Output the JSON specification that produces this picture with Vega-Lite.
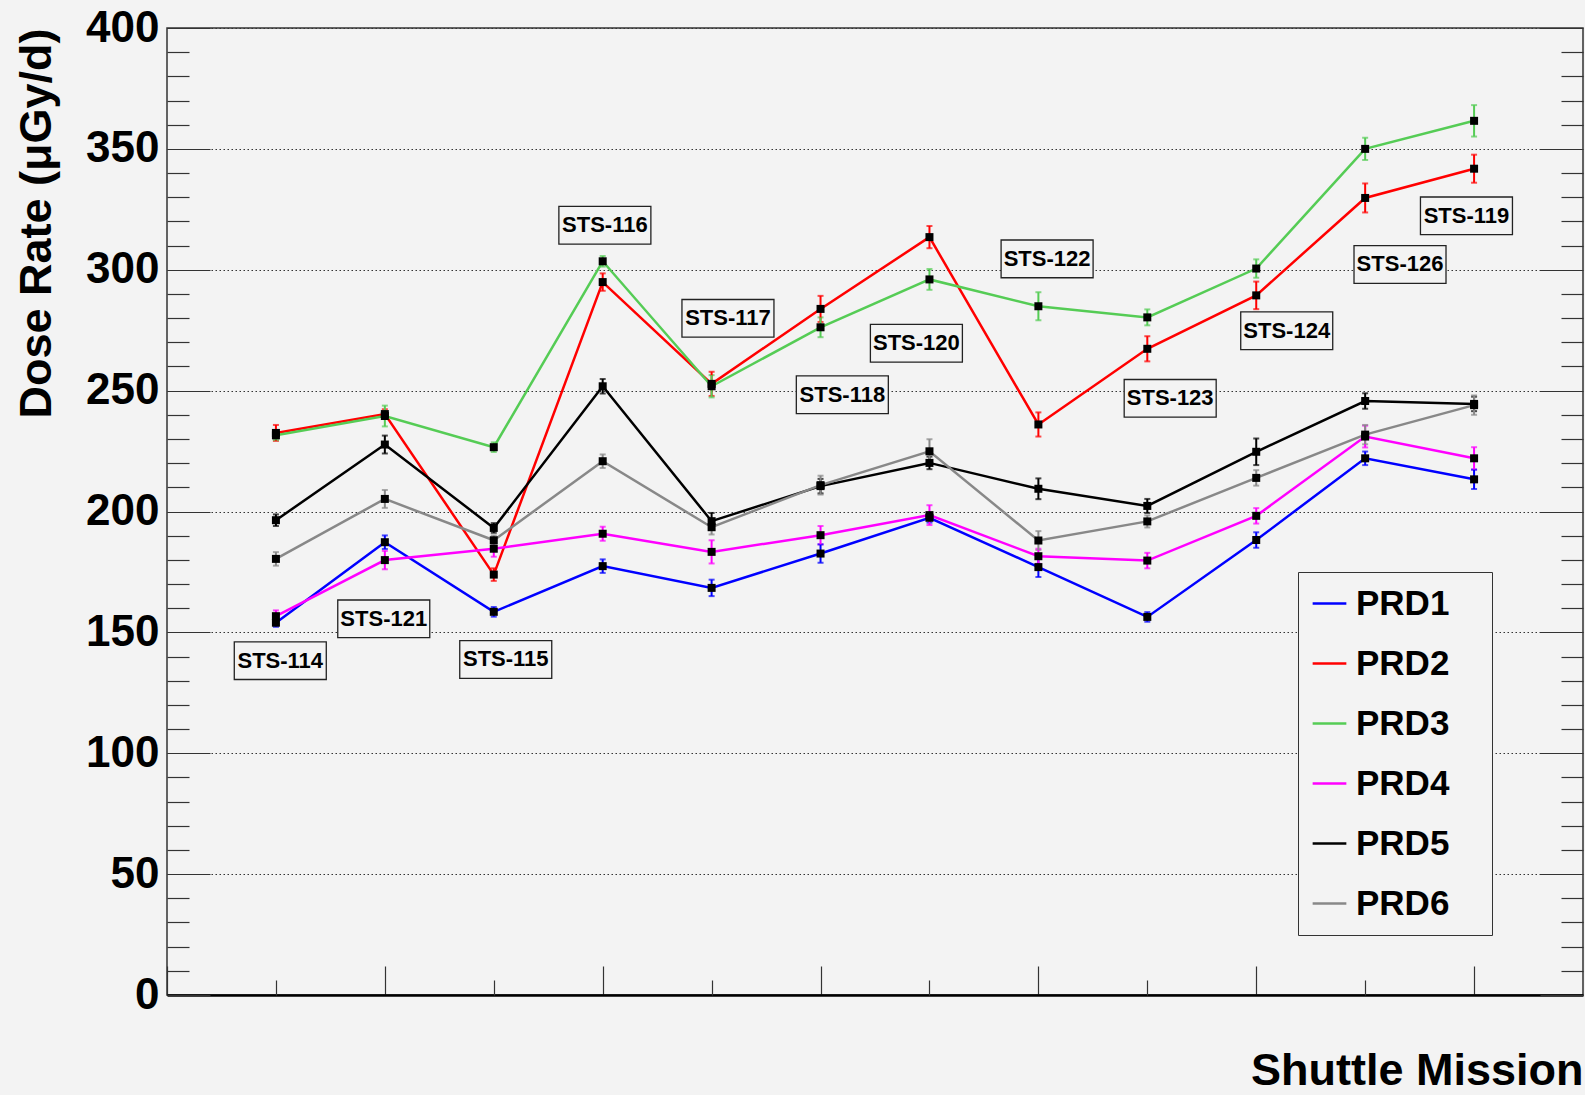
{
  "$schema": "https://vega.github.io/schema/vega-lite/v6.json",
  "width": 1416,
  "height": 967,
  "autosize": {"type": "none"},
  "padding": {"left": 167, "top": 28, "right": 2, "bottom": 100},
  "background": "#f3f3f3",
  "config": {
    "view": {"stroke": "#333333", "strokeWidth": 1.5},
    "axis": {"domain": false, "labelFont": "Liberation Sans", "titleFont": "Liberation Sans", "labelColor": "black", "titleColor": "black", "tickColor": "#333333", "tickWidth": 1.2}
  },
  "datasets": {
    "dose": [
      {"m": 1, "s": "PRD1", "v": 154.0, "e": 1.7}, {"m": 2, "s": "PRD1", "v": 187.3, "e": 2.8}, {"m": 3, "s": "PRD1", "v": 158.5, "e": 2.0}, {"m": 4, "s": "PRD1", "v": 177.4, "e": 2.8}, {"m": 5, "s": "PRD1", "v": 168.4, "e": 3.4}, {"m": 6, "s": "PRD1", "v": 182.6, "e": 3.8}, {"m": 7, "s": "PRD1", "v": 197.4, "e": 2.0}, {"m": 8, "s": "PRD1", "v": 177.0, "e": 4.1}, {"m": 9, "s": "PRD1", "v": 156.4, "e": 2.0}, {"m": 10, "s": "PRD1", "v": 188.2, "e": 3.2}, {"m": 11, "s": "PRD1", "v": 222.0, "e": 2.8}, {"m": 12, "s": "PRD1", "v": 213.3, "e": 4.0},
      {"m": 1, "s": "PRD2", "v": 232.5, "e": 3.3}, {"m": 2, "s": "PRD2", "v": 240.3, "e": 2.0}, {"m": 3, "s": "PRD2", "v": 173.9, "e": 2.6}, {"m": 4, "s": "PRD2", "v": 294.9, "e": 3.6}, {"m": 5, "s": "PRD2", "v": 252.8, "e": 5.0}, {"m": 6, "s": "PRD2", "v": 283.8, "e": 5.4}, {"m": 7, "s": "PRD2", "v": 313.5, "e": 4.6}, {"m": 8, "s": "PRD2", "v": 236.0, "e": 5.0}, {"m": 9, "s": "PRD2", "v": 267.3, "e": 5.2}, {"m": 10, "s": "PRD2", "v": 289.4, "e": 5.7}, {"m": 11, "s": "PRD2", "v": 329.7, "e": 6.0}, {"m": 12, "s": "PRD2", "v": 341.8, "e": 5.8},
      {"m": 1, "s": "PRD3", "v": 231.5, "e": 2.0}, {"m": 2, "s": "PRD3", "v": 239.5, "e": 4.3}, {"m": 3, "s": "PRD3", "v": 226.6, "e": 2.0}, {"m": 4, "s": "PRD3", "v": 303.5, "e": 2.2}, {"m": 5, "s": "PRD3", "v": 251.8, "e": 4.6}, {"m": 6, "s": "PRD3", "v": 276.2, "e": 4.1}, {"m": 7, "s": "PRD3", "v": 296.0, "e": 4.3}, {"m": 8, "s": "PRD3", "v": 284.9, "e": 5.8}, {"m": 9, "s": "PRD3", "v": 280.3, "e": 3.3}, {"m": 10, "s": "PRD3", "v": 300.5, "e": 3.8}, {"m": 11, "s": "PRD3", "v": 350.0, "e": 4.6}, {"m": 12, "s": "PRD3", "v": 361.6, "e": 6.5},
      {"m": 1, "s": "PRD4", "v": 156.7, "e": 2.4}, {"m": 2, "s": "PRD4", "v": 179.9, "e": 3.8}, {"m": 3, "s": "PRD4", "v": 184.6, "e": 3.3}, {"m": 4, "s": "PRD4", "v": 190.8, "e": 2.9}, {"m": 5, "s": "PRD4", "v": 183.3, "e": 4.8}, {"m": 6, "s": "PRD4", "v": 190.2, "e": 3.8}, {"m": 7, "s": "PRD4", "v": 198.5, "e": 4.1}, {"m": 8, "s": "PRD4", "v": 181.5, "e": 3.1}, {"m": 9, "s": "PRD4", "v": 179.7, "e": 3.2}, {"m": 10, "s": "PRD4", "v": 198.2, "e": 3.2}, {"m": 11, "s": "PRD4", "v": 231.0, "e": 4.5}, {"m": 12, "s": "PRD4", "v": 222.0, "e": 4.6},
      {"m": 1, "s": "PRD5", "v": 196.4, "e": 2.4}, {"m": 2, "s": "PRD5", "v": 227.7, "e": 3.7}, {"m": 3, "s": "PRD5", "v": 193.2, "e": 2.0}, {"m": 4, "s": "PRD5", "v": 251.8, "e": 3.0}, {"m": 5, "s": "PRD5", "v": 196.0, "e": 3.4}, {"m": 6, "s": "PRD5", "v": 210.5, "e": 3.0}, {"m": 7, "s": "PRD5", "v": 220.1, "e": 2.6}, {"m": 8, "s": "PRD5", "v": 209.4, "e": 4.3}, {"m": 9, "s": "PRD5", "v": 202.3, "e": 2.9}, {"m": 10, "s": "PRD5", "v": 224.7, "e": 5.5}, {"m": 11, "s": "PRD5", "v": 245.7, "e": 3.2}, {"m": 12, "s": "PRD5", "v": 244.5, "e": 3.0},
      {"m": 1, "s": "PRD6", "v": 180.4, "e": 2.8}, {"m": 2, "s": "PRD6", "v": 205.2, "e": 3.7}, {"m": 3, "s": "PRD6", "v": 188.1, "e": 2.0}, {"m": 4, "s": "PRD6", "v": 220.8, "e": 2.8}, {"m": 5, "s": "PRD6", "v": 193.5, "e": 3.0}, {"m": 6, "s": "PRD6", "v": 210.9, "e": 3.9}, {"m": 7, "s": "PRD6", "v": 224.9, "e": 5.0}, {"m": 8, "s": "PRD6", "v": 188.0, "e": 3.9}, {"m": 9, "s": "PRD6", "v": 195.9, "e": 2.5}, {"m": 10, "s": "PRD6", "v": 213.9, "e": 3.2}, {"m": 11, "s": "PRD6", "v": 231.8, "e": 4.0}, {"m": 12, "s": "PRD6", "v": 244.0, "e": 4.0}
    ],
    "missions": [
      {"mission": "STS-114", "lx": 1.04, "ly": 138.3},
      {"mission": "STS-121", "lx": 1.99, "ly": 155.6},
      {"mission": "STS-115", "lx": 3.11, "ly": 138.8},
      {"mission": "STS-116", "lx": 4.02, "ly": 318.4},
      {"mission": "STS-117", "lx": 5.15, "ly": 279.9},
      {"mission": "STS-118", "lx": 6.20, "ly": 248.3},
      {"mission": "STS-120", "lx": 6.88, "ly": 269.6},
      {"mission": "STS-122", "lx": 8.08, "ly": 304.5},
      {"mission": "STS-123", "lx": 9.21, "ly": 246.8},
      {"mission": "STS-124", "lx": 10.28, "ly": 274.8},
      {"mission": "STS-126", "lx": 11.32, "ly": 302.2},
      {"mission": "STS-119", "lx": 11.93, "ly": 322.3}
    ]
  },
  "layer": [
    {
      "data": {"name": "dose"},
      "mark": {"type": "line", "strokeWidth": 2.5},
      "encoding": {
        "x": {"field": "m", "type": "quantitative", "scale": {"domain": [0, 13], "nice": false, "zero": false},
          "axis": {"orient": "bottom", "values": [0, 2, 4, 6, 8, 10, 12], "tickSize": -29, "labels": false, "domain": true, "domainWidth": 2.5, "domainColor": "black", "grid": false,
            "title": "Shuttle Mission", "titleFontSize": 45, "titleFontWeight": "bold", "titleAnchor": "end", "titleAlign": "right", "titleBaseline": "alphabetic", "titleX": 1416, "titleY": 89}},
        "y": {"field": "v", "type": "quantitative", "scale": {"domain": [0, 400], "nice": false, "zero": true},
          "axis": {"orient": "left", "values": [0, 50, 100, 150, 200, 250, 300, 350, 400], "tickSize": -43, "labelFontSize": 44, "labelFontWeight": "bold", "labelPadding": 51,
            "grid": true, "gridDash": [1.5, 2.5], "gridColor": "#333333", "gridWidth": 1,
            "title": "Dose Rate (μGy/d)", "titleFontSize": 45, "titleFontWeight": "bold", "titleAngle": -90, "titleAnchor": "end", "titleAlign": "right", "titleBaseline": "alphabetic", "titleX": -117, "titleY": 0}},
        "color": {"field": "s", "type": "nominal",
          "scale": {"domain": ["PRD1", "PRD2", "PRD3", "PRD4", "PRD5", "PRD6"], "range": ["#0000ff", "#ff0000", "#55cc55", "#ff00ff", "#000000", "#888888"]},
          "legend": {"orient": "none", "legendX": 1131, "legendY": 544, "title": null, "symbolType": "stroke", "symbolSize": 1136, "symbolStrokeWidth": 2.5,
            "labelFont": "Liberation Sans", "labelFontWeight": "bold", "labelFontSize": 35, "labelColor": "black", "labelOffset": 8, "rowPadding": 23, "padding": 13,
            "strokeColor": "#333333", "fillColor": "#f3f3f3", "labelExpr": "datum.label + '\u00a0\u00a0\u00a0\u200b'"}}
      }
    },
    {
      "data": {"name": "dose"},
      "mark": {"type": "errorbar", "ticks": true, "size": 6, "thickness": 2},
      "encoding": {
        "x": {"field": "m", "type": "quantitative", "axis": null},
        "y": {"field": "v", "type": "quantitative", "axis": null},
        "yError": {"field": "e"},
        "color": {"field": "s", "type": "nominal", "legend": null}
      }
    },
    {
      "data": {"name": "dose"},
      "mark": {"type": "point", "shape": "square", "filled": true, "size": 64, "color": "black", "opacity": 1},
      "encoding": {
        "x": {"field": "m", "type": "quantitative",
          "axis": {"orient": "bottom", "values": [1, 3, 5, 7, 9, 11], "tickSize": -15, "labels": false, "domain": false, "grid": false, "title": null}},
        "y": {"field": "v", "type": "quantitative",
          "axis": {"orient": "left", "values": [10, 20, 30, 40, 60, 70, 80, 90, 110, 120, 130, 140, 160, 170, 180, 190, 210, 220, 230, 240, 260, 270, 280, 290, 310, 320, 330, 340, 360, 370, 380, 390], "tickSize": -22, "labels": false, "grid": false, "title": null}}
      }
    },
    {
      "data": {"name": "missions"},
      "mark": {"type": "point", "shape": "M-1,-0.41H1V0.41H-1Z", "size": 8464, "filled": true, "fill": "#f3f3f3", "stroke": "#222222", "strokeWidth": 1.3, "opacity": 1},
      "encoding": {
        "x": {"field": "lx", "type": "quantitative", "axis": null},
        "y": {"field": "ly", "type": "quantitative",
          "axis": {"orient": "right", "values": [0, 50, 100, 150, 200, 250, 300, 350, 400], "tickSize": -43, "labels": false, "grid": false, "title": null}}
      }
    },
    {
      "data": {"name": "missions"},
      "mark": {"type": "text", "font": "Liberation Sans", "fontWeight": "bold", "fontSize": 22, "color": "black"},
      "encoding": {
        "x": {"field": "lx", "type": "quantitative", "axis": null},
        "y": {"field": "ly", "type": "quantitative",
          "axis": {"orient": "right", "values": [10, 20, 30, 40, 60, 70, 80, 90, 110, 120, 130, 140, 160, 170, 180, 190, 210, 220, 230, 240, 260, 270, 280, 290, 310, 320, 330, 340, 360, 370, 380, 390], "tickSize": -22, "labels": false, "grid": false, "title": null}},
        "text": {"field": "mission"}
      }
    }
  ],
  "resolve": {"axis": {"x": "independent", "y": "independent"}}
}
